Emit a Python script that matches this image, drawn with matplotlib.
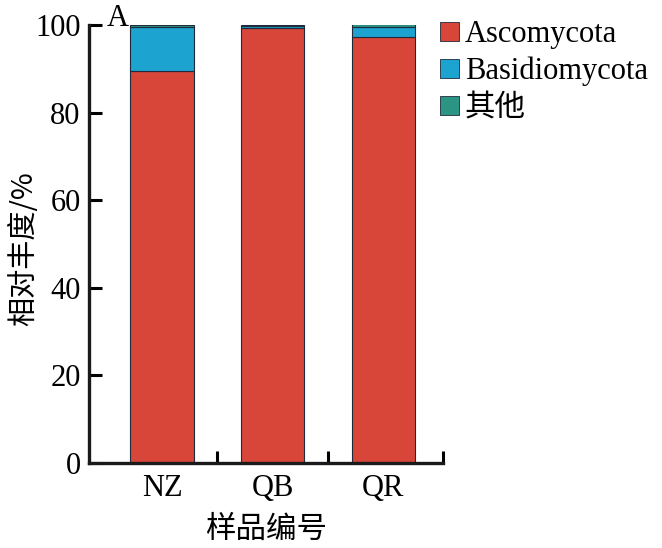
import matplotlib
matplotlib.use("Agg")
import matplotlib.pyplot as plt
import numpy as np
from matplotlib.patches import Patch

samples = ["NZ", "QB", "QR"]
ascomycota = [89.6, 99.4, 97.3]
basidiomycota = [9.9, 0.3, 2.3]
other = [0.5, 0.3, 0.6]
labels = ["Ascomycota", "Basidiomycota", "其他"]
colors = ["#d8463a", "#1ca3cf", "#2b9482"]

SERIF = ["Liberation Serif", "Noto Sans CJK SC", "DejaVu Serif"]
CJK = ["Noto Sans CJK SC", "Liberation Serif"]
plt.rcParams["font.family"] = SERIF
FS = 22

fig = plt.figure(figsize=(6.62, 5.48), dpi=100)
ax = fig.add_axes([89 / 662, 1 - 463 / 548, (443 - 89) / 662, (463 - 25) / 548])

x = np.arange(len(samples))
bottom = np.zeros(len(samples))
for vals, c in zip([ascomycota, basidiomycota, other], colors):
    ax.bar(x, vals, width=0.57, bottom=bottom, color=c, edgecolor="#1f2a3a", linewidth=0.8)
    bottom += np.array(vals)

ax.set_xlim(-0.66, 2.54)
ax.set_ylim(0, 100)
ax.set_yticks([0, 20, 40, 60, 80, 100])
ax.set_xticks(x)
ax.set_xticklabels(samples)
ax.set_xticks([0.5, 1.5, 2.54], minor=True)
ax.tick_params(axis="x", which="major", length=0, labelsize=FS, pad=8)
ax.tick_params(axis="x", which="minor", direction="in", length=9, width=2.2)
ax.tick_params(axis="y", direction="in", length=9, width=2.2, labelsize=FS, pad=6)
for s in ["top", "right"]:
    ax.spines[s].set_visible(False)
for s in ["left", "bottom"]:
    ax.spines[s].set_linewidth(2.4)
    ax.spines[s].set_color("#1a1a1a")

ax.set_ylabel("相对丰度/%", family=CJK, fontsize=21)
ax.yaxis.set_label_coords((39 - 89) / 354, 0.489)
ax.set_xlabel("样品编号", family=CJK, fontsize=FS, labelpad=8)

fig.text(118 / 662, 1 - 18 / 548, "A", fontsize=FS, ha="center", va="center")

handles = [Patch(facecolor=c, edgecolor="#1f2a3a", linewidth=0.6) for c in colors]
leg = fig.legend(handles, labels, loc="upper left", bbox_to_anchor=(428 / 662, 1 - 8 / 548),
                 frameon=False, fontsize=FS, handlelength=0.6, handleheight=0.6,
                 handletextpad=0.2, labelspacing=0.25, borderaxespad=0)
for t in leg.get_texts():
    t.set_family(SERIF)

fig.savefig("out.png", dpi=100)
